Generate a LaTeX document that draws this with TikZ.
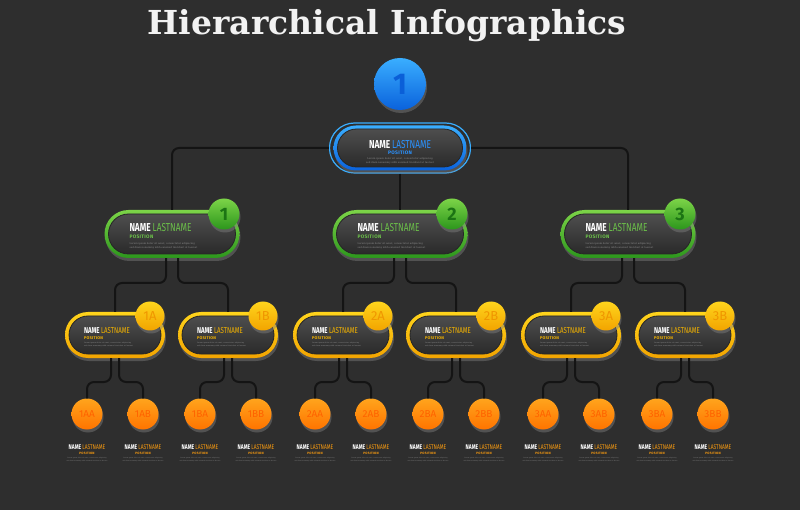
\documentclass[tikz,border=0pt]{standalone}
\usepackage{fontspec}
\usepackage{xcolor}
\usepackage{tikz}
\usetikzlibrary{shapes, shadows, arrows, calc}
\setmainfont{DejaVu Serif}
\newfontfamily\namefont[FakeStretch=0.72]{Fira Sans}
\newfontfamily\posfont[LetterSpace=6]{Fira Sans}
\newfontfamily\numfont{Fira Sans}
\definecolor{bgc}{HTML}{2E2E2E}
\definecolor{linec}{HTML}{141414}
\definecolor{lorem}{HTML}{8A8A8A}
\definecolor{faceA}{HTML}{4E4E4E}
\definecolor{faceB}{HTML}{2A2A2A}
\definecolor{blueA}{HTML}{3AAEFF}
\definecolor{blueB}{HTML}{0A62DC}
\definecolor{blueT}{HTML}{2A92FF}
\definecolor{blueD}{HTML}{0A5FD8}
\definecolor{grnA}{HTML}{7CD448}
\definecolor{grnB}{HTML}{2C961C}
\definecolor{grnT}{HTML}{6CC04A}
\definecolor{grnD}{HTML}{1C7414}
\definecolor{yelA}{HTML}{FFD41C}
\definecolor{yelB}{HTML}{F2A400}
\definecolor{yelT}{HTML}{F5B400}
\definecolor{yelD}{HTML}{F09600}
\definecolor{orA}{HTML}{FFA41C}
\definecolor{orB}{HTML}{FF7400}
\definecolor{orT}{HTML}{F79A10}
\definecolor{orD}{HTML}{FF6200}
\tikzstyle{link}=[draw=linec, line width=2pt, rounded corners=7pt]
\tikzstyle{shade}=[drop shadow={opacity=0.45, shadow xshift=1pt, shadow yshift=-3pt}]
\tikzstyle{halo}=[draw=blueA, line width=1.2pt, rectangle, rounded corners=25pt, minimum width=141pt, minimum height=50pt]
\tikzstyle{ringtop}=[rectangle, rounded corners=22.5pt, minimum width=133pt, minimum height=45pt, top color=blueA, bottom color=blueB, shade]
\tikzstyle{ringg}=[rectangle, rounded corners=24pt, minimum width=135pt, minimum height=48pt, top color=grnA, bottom color=grnB, shade]
\tikzstyle{ringy}=[rectangle, rounded corners=23pt, minimum width=100pt, minimum height=46pt, top color=yelA, bottom color=yelB, shade]
\tikzstyle{face}=[rectangle, draw=black!85, line width=0.8pt, top color=faceA, bottom color=faceB]
\tikzstyle{facetop}=[face, rounded corners=19pt, minimum width=125pt, minimum height=38pt]
\tikzstyle{faceg}=[face, rounded corners=20pt, minimum width=127pt, minimum height=40pt]
\tikzstyle{facey}=[face, rounded corners=19pt, minimum width=92pt, minimum height=38pt]
\tikzstyle{badge}=[circle, inner sep=0pt, shade]
\tikzstyle{btop}=[badge, minimum size=52pt, top color=blueA, bottom color=blueB, text=blueD, font={\fontsize{30}{30}\numfont\bfseries}]
\tikzstyle{bg}=[badge, minimum size=31pt, top color=grnA, bottom color=grnB, text=grnD, font={\fontsize{18}{18}\numfont\bfseries}]
\tikzstyle{by}=[badge, minimum size=29pt, top color=yelA, bottom color=yelB, text=yelD, font={\fontsize{13}{13}\numfont}]
\tikzstyle{bo}=[badge, minimum size=31pt, top color=orA, bottom color=orB, text=orD, font={\fontsize{10}{10}\numfont}]
\tikzstyle{txt}=[inner sep=0pt, align=left, anchor=west, font={\fontsize{2.5}{4}\selectfont}]
\tikzstyle{txty}=[txt, font={\fontsize{1.8}{3}\selectfont}]
\tikzstyle{leaf}=[inner sep=0pt, align=center, font={\fontsize{1.5}{3}\selectfont}]
% text of one card: colour, name size, position size, two gaps
\def\card#1#2#3#4#5{{\fontsize{#2}{#2}\namefont\bfseries\textcolor{white}{NAME} \mdseries\textcolor{#1}{LASTNAME}}\\[#4]
	{\fontsize{#3}{#3}\posfont\bfseries\textcolor{#1}{POSITION}}\\[#5]
	{\textcolor{lorem}{Lorem ipsum dolor sit amet, consectetur adipiscing}}\\
	{\textcolor{lorem}{sed diam nonummy nibh euismod tincidunt ut laoreet}}}
\def\leafcard{\card{orT}{6.8}{3.2}{2pt}{1pt}}
\def\ycard{\card{yelT}{8.5}{4}{3pt}{1pt}}
\def\gcard{\card{grnT}{11.5}{5}{3.4pt}{1.2pt}}

\begin{document}
\begin{tikzpicture}[x=1pt, y=-1pt]
		\fill[bgc] (0,0) rectangle (800,510);
		\useasboundingbox (0,0) rectangle (800,510);
		\node[text=white!95!black, font={\fontsize{33}{33}\selectfont\bfseries}] (title) at (387,26) {Hierarchical Infographics};
		\coordinate (lvl3) at (0,283);
		\coordinate (lvl4) at (0,382);
	%--------------------
		\node[btop] (b0) at (400,84) {1};
		\node[halo] (topo) at (400,148) {};
		\node[ringtop] (top) at (400,148) {};
		\node[facetop] (topf) at (400,148) {};
		\node[txt, anchor=center, align=center] (topt) at (400,152) {\card{blueT}{11.5}{5}{2.6pt}{0.8pt}};
	%--------------------
		\node[ringg] (g1) at (172,234) {};
		\node[faceg] (g1f) at (172,234) {};
		\node[txt] (g1t) at ([xshift=25pt,yshift=-2pt]g1.west) {\gcard};
		\node[bg] (b1) at (224,214) {1};
		\node[ringg] (g2) at (400,234) {};
		\node[faceg] (g2f) at (400,234) {};
		\node[txt] (g2t) at ([xshift=25pt,yshift=-2pt]g2.west) {\gcard};
		\node[bg] (b2) at (452,214) {2};
		\node[ringg] (g3) at (628,234) {};
		\node[faceg] (g3f) at (628,234) {};
		\node[txt] (g3t) at ([xshift=25pt,yshift=-2pt]g3.west) {\gcard};
		\node[bg] (b3) at (680,214) {3};
	%--------------------
		\node[ringy] (y1a) at (115,335) {};
		\node[facey] (y1af) at (115,335) {};
		\node[txty] (y1at) at ([xshift=19pt,yshift=-2pt]y1a.west) {\ycard};
		\node[by] (b1a) at (150,316) {1A};
		\node[ringy] (y1b) at (228,335) {};
		\node[facey] (y1bf) at (228,335) {};
		\node[txty] (y1bt) at ([xshift=19pt,yshift=-2pt]y1b.west) {\ycard};
		\node[by] (b1b) at (263,316) {1B};
		\node[ringy] (y2a) at (343,335) {};
		\node[facey] (y2af) at (343,335) {};
		\node[txty] (y2at) at ([xshift=19pt,yshift=-2pt]y2a.west) {\ycard};
		\node[by] (b2a) at (378,316) {2A};
		\node[ringy] (y2b) at (456,335) {};
		\node[facey] (y2bf) at (456,335) {};
		\node[txty] (y2bt) at ([xshift=19pt,yshift=-2pt]y2b.west) {\ycard};
		\node[by] (b2b) at (491,316) {2B};
		\node[ringy] (y3a) at (571,335) {};
		\node[facey] (y3af) at (571,335) {};
		\node[txty] (y3at) at ([xshift=19pt,yshift=-2pt]y3a.west) {\ycard};
		\node[by] (b3a) at (606,316) {3A};
		\node[ringy] (y3b) at (685,335) {};
		\node[facey] (y3bf) at (685,335) {};
		\node[txty] (y3bt) at ([xshift=19pt,yshift=-2pt]y3b.west) {\ycard};
		\node[by] (b3b) at (720,316) {3B};
	%--------------------
		\node[bo] (o1aa) at (87,414) {1AA};
		\node[bo] (o1ab) at (143,414) {1AB};
		\node[bo] (o1ba) at (200,414) {1BA};
		\node[bo] (o1bb) at (256,414) {1BB};
		\node[bo] (o2aa) at (315,414) {2AA};
		\node[bo] (o2ab) at (371,414) {2AB};
		\node[bo] (o2ba) at (428,414) {2BA};
		\node[bo] (o2bb) at (484,414) {2BB};
		\node[bo] (o3aa) at (543,414) {3AA};
		\node[bo] (o3ab) at (599,414) {3AB};
		\node[bo] (o3ba) at (657,414) {3BA};
		\node[bo] (o3bb) at (713,414) {3BB};
		\node[leaf] (t1aa) at (87,453) {\leafcard};
		\node[leaf] (t1ab) at (143,453) {\leafcard};
		\node[leaf] (t1ba) at (200,453) {\leafcard};
		\node[leaf] (t1bb) at (256,453) {\leafcard};
		\node[leaf] (t2aa) at (315,453) {\leafcard};
		\node[leaf] (t2ab) at (371,453) {\leafcard};
		\node[leaf] (t2ba) at (428,453) {\leafcard};
		\node[leaf] (t2bb) at (484,453) {\leafcard};
		\node[leaf] (t3aa) at (543,453) {\leafcard};
		\node[leaf] (t3ab) at (599,453) {\leafcard};
		\node[leaf] (t3ba) at (657,453) {\leafcard};
		\node[leaf] (t3bb) at (713,453) {\leafcard};
	%--------------------
		\draw[link] (topo.west) -| (g1.north);
		\draw[link] (topo.east) -| (g3.north);
		\draw[link] (topo.south) -- (g2.north);
		\draw[link] ([xshift=-6pt]g1.south) |- (y1a.north |- lvl3) -- (y1a.north);
		\draw[link] ([xshift=6pt]g1.south) |- (y1b.north |- lvl3) -- (y1b.north);
		\draw[link] ([xshift=-6pt]g2.south) |- (y2a.north |- lvl3) -- (y2a.north);
		\draw[link] ([xshift=6pt]g2.south) |- (y2b.north |- lvl3) -- (y2b.north);
		\draw[link] ([xshift=-6pt]g3.south) |- (y3a.north |- lvl3) -- (y3a.north);
		\draw[link] ([xshift=6pt]g3.south) |- (y3b.north |- lvl3) -- (y3b.north);
	%--------------------
		\draw[link] ([xshift=-4pt]y1a.south) |- (o1aa.north |- lvl4) -- (o1aa.north);
		\draw[link] ([xshift=4pt]y1a.south) |- (o1ab.north |- lvl4) -- (o1ab.north);
		\draw[link] ([xshift=-4pt]y1b.south) |- (o1ba.north |- lvl4) -- (o1ba.north);
		\draw[link] ([xshift=4pt]y1b.south) |- (o1bb.north |- lvl4) -- (o1bb.north);
		\draw[link] ([xshift=-4pt]y2a.south) |- (o2aa.north |- lvl4) -- (o2aa.north);
		\draw[link] ([xshift=4pt]y2a.south) |- (o2ab.north |- lvl4) -- (o2ab.north);
		\draw[link] ([xshift=-4pt]y2b.south) |- (o2ba.north |- lvl4) -- (o2ba.north);
		\draw[link] ([xshift=4pt]y2b.south) |- (o2bb.north |- lvl4) -- (o2bb.north);
		\draw[link] ([xshift=-4pt]y3a.south) |- (o3aa.north |- lvl4) -- (o3aa.north);
		\draw[link] ([xshift=4pt]y3a.south) |- (o3ab.north |- lvl4) -- (o3ab.north);
		\draw[link] ([xshift=-4pt]y3b.south) |- (o3ba.north |- lvl4) -- (o3ba.north);
		\draw[link] ([xshift=4pt]y3b.south) |- (o3bb.north |- lvl4) -- (o3bb.north);
	\end{tikzpicture}
\end{document}
